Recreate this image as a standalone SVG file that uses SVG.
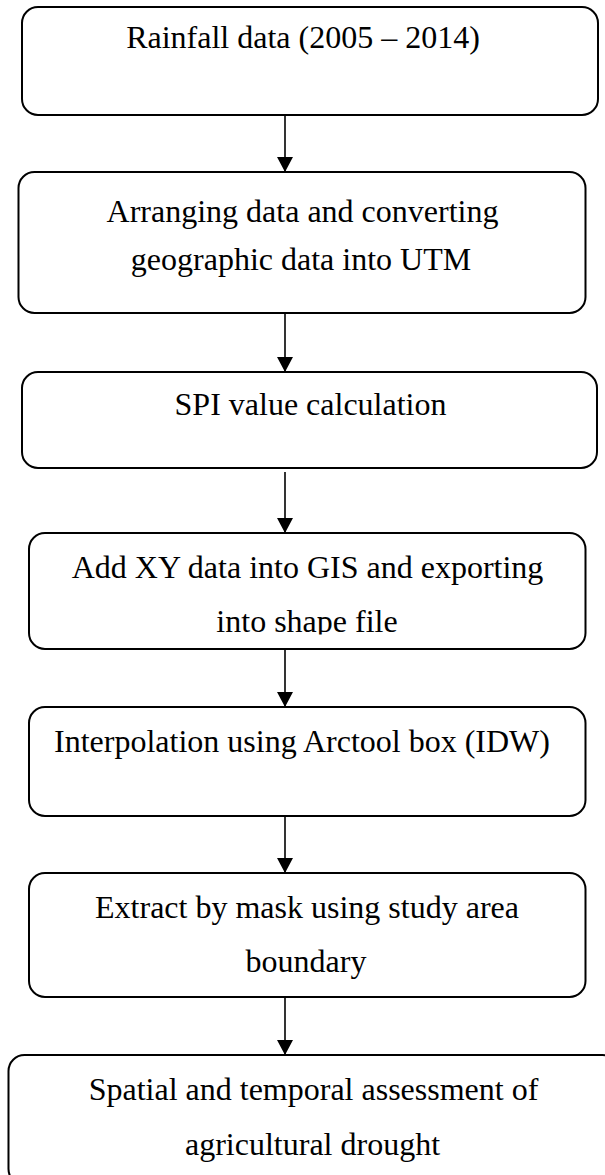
<svg xmlns="http://www.w3.org/2000/svg" width="605" height="1175" viewBox="0 0 605 1175">
  <style>
    .box { fill: #ffffff; stroke: #000000; stroke-width: 2; }
    .lbl { font-family: "Liberation Serif", "Times New Roman", serif; font-size: 32px; fill: #000000; text-anchor: middle; }
    .edge { stroke: #000000; stroke-width: 1.6; fill: none; marker-end: url(#head); }
  </style>
  <defs>
    <marker id="head" markerUnits="userSpaceOnUse" markerWidth="15" markerHeight="16" viewBox="0 0 15 16" refX="15" refY="8" orient="auto">
      <path d="M0,0 L15,8 L0,16 Z" fill="#000000"/>
    </marker>
    <!-- second line of the GIS step is cut short by its text frame -->
    <clipPath id="gisClip">
      <rect x="0" y="530" width="605" height="104.5"/>
    </clipPath>
  </defs>
  <rect width="605" height="1175" fill="#ffffff"/>

  <g id="connectors">
    <line class="edge" x1="285" y1="115" x2="285" y2="172"/>
    <line class="edge" x1="285" y1="313" x2="285" y2="372"/>
    <line class="edge" x1="285" y1="472" x2="285" y2="533"/>
    <line class="edge" x1="285" y1="649" x2="285" y2="707"/>
    <line class="edge" x1="285" y1="816" x2="285" y2="873"/>
    <line class="edge" x1="285" y1="997" x2="285" y2="1055"/>
  </g>

  <g id="rainfall">
    <rect class="box" x="22" y="7" width="576" height="108" rx="16" ry="16"/>
    <text class="lbl" x="303" y="48">Rainfall data (2005 – 2014)</text>
  </g>

  <g id="arranging">
    <rect class="box" x="18.5" y="172" width="567" height="141" rx="16" ry="16"/>
    <text class="lbl" x="302.5" y="222">Arranging data and converting</text>
    <text class="lbl" x="301" y="270">geographic data into UTM</text>
  </g>

  <g id="spi">
    <rect class="box" x="22" y="372" width="575" height="96" rx="16" ry="16"/>
    <text class="lbl" x="310.5" y="415">SPI value calculation</text>
  </g>

  <g id="gis">
    <rect class="box" x="29" y="533" width="556.5" height="116" rx="16" ry="16"/>
    <g clip-path="url(#gisClip)">
      <text class="lbl" x="307.5" y="578">Add XY data into GIS and exporting</text>
      <text class="lbl" x="307" y="632">into shape file</text>
    </g>
  </g>

  <g id="interpolation">
    <rect class="box" x="29" y="707" width="556.5" height="109" rx="16" ry="16"/>
    <text class="lbl" x="302" y="752">Interpolation using Arctool box (IDW)</text>
  </g>

  <g id="extract">
    <rect class="box" x="29" y="873" width="556.5" height="124" rx="16" ry="16"/>
    <text class="lbl" x="307" y="918">Extract by mask using study area</text>
    <text class="lbl" x="306" y="972">boundary</text>
  </g>

  <g id="assessment">
    <rect class="box" x="8.5" y="1055" width="610" height="130" rx="16" ry="16"/>
    <text class="lbl" x="313.5" y="1100">Spatial and temporal assessment of</text>
    <text class="lbl" x="312.5" y="1155">agricultural drought</text>
  </g>
</svg>
